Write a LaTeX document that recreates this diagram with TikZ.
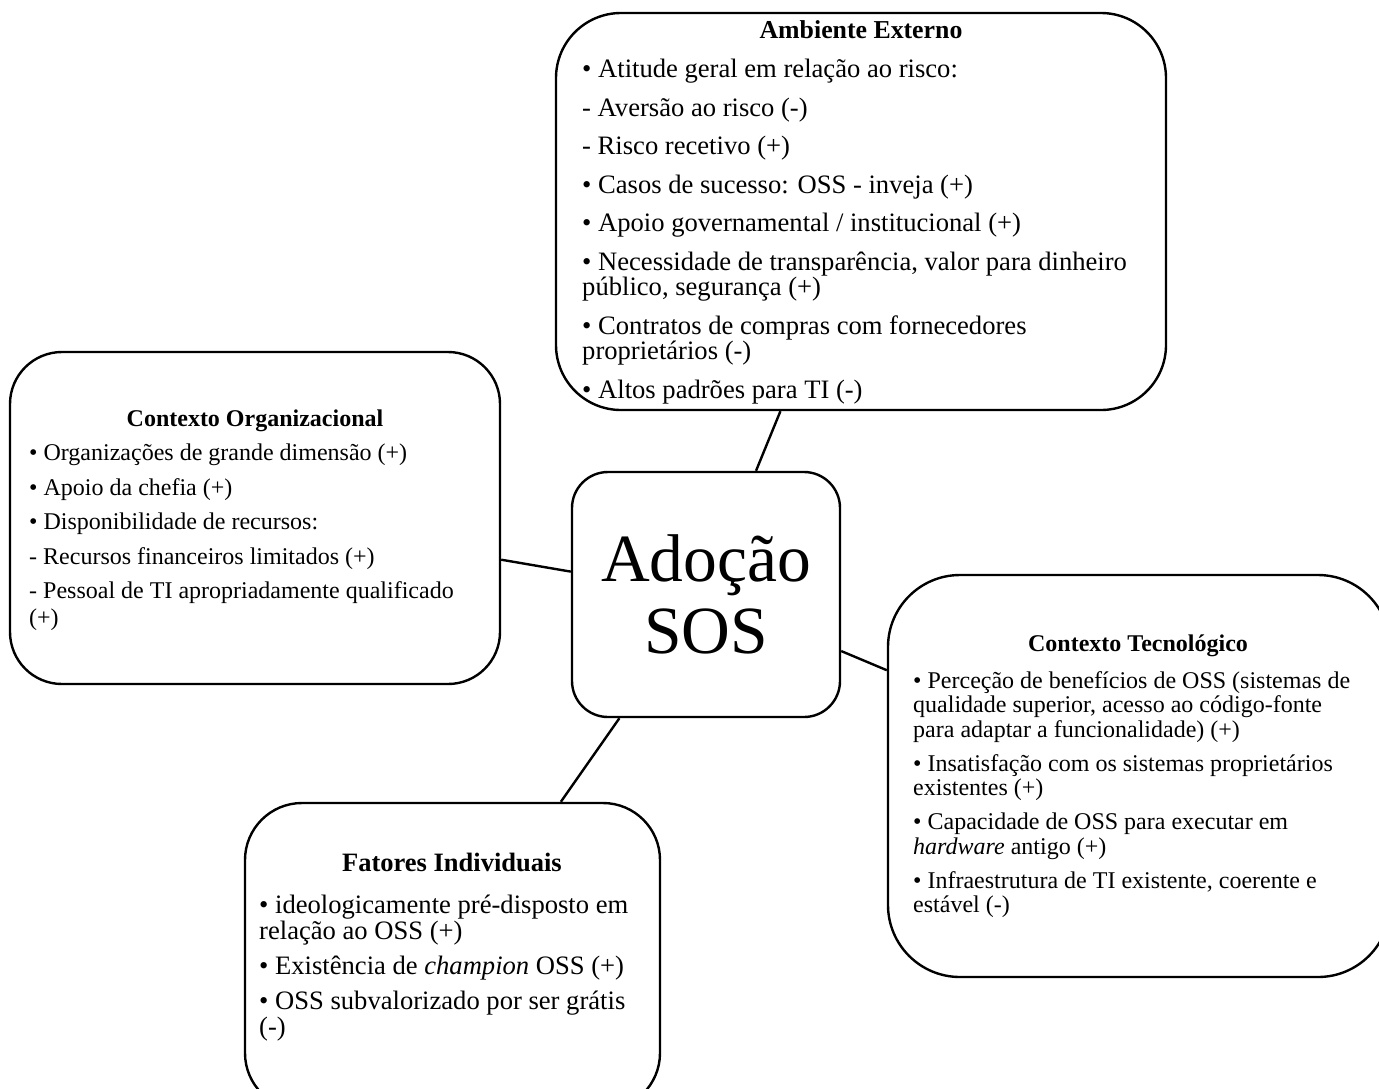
\documentclass[tikz,border=0pt]{standalone}
\usepackage{fontspec}
\setmainfont{Liberation Serif}
\newcommand\lineblock[2]{\vtop{\baselineskip=#1\relax\lineskiplimit=-1000pt\relax\lineskip=0pt\relax #2}}
\newcommand\txl[1]{\hbox{#1}}
\newcommand\pg[1]{\vskip#1\relax}
\tikzset{
  box/.style={draw, line width=2.4pt, rectangle, inner sep=0pt},
  conn/.style={draw, line width=2.4pt},
  ttl/.style={anchor=base, inner sep=0pt, font=\bfseries\fontsize{#1}{#1}\selectfont},
  body/.style={anchor=base west, inner sep=0pt, font=\fontsize{#1}{#1}\selectfont}
}
\begin{document}
\begin{tikzpicture}[x=1pt,y=-1pt]
\useasboundingbox (0,0) rectangle (1379,1088);
\clip (0,0) rectangle (1379,1088);

% boxes
\node[box, minimum width=610pt, minimum height=397pt, rounded corners=65pt] (amb) at (861,211.5) {};
\node[box, minimum width=490pt, minimum height=332pt, rounded corners=52pt] (org) at (255,518) {};
\node[box, minimum width=268pt, minimum height=245pt, rounded corners=36pt,
      font=\fontsize{67.5}{72}\selectfont, align=center] (ado) at (706,594.5) {Adoção\\SOS};
\node[box, minimum width=502pt, minimum height=402pt, rounded corners=72pt] (tec) at (1139,776) {};
\node[box, minimum width=415pt, minimum height=307pt, rounded corners=57pt] (ind) at (452.5,956.5) {};

% connectors
\draw[conn] (amb) -- (ado);
\draw[conn] (org) -- (ado);
\draw[conn] (tec) -- (ado);
\draw[conn] (ind) -- (ado);

% Ambiente Externo
\node[ttl=25.8] (ambtitle) at (861,38) {Ambiente Externo};
\node[body=26.6] (ambtext) at (582,77.5) {\lineblock{25.5pt}{%
\txl{• Atitude geral em relação ao risco:}\pg{13pt}%
\txl{- Aversão ao risco (-)}\pg{13pt}%
\txl{- Risco recetivo (+)}\pg{13pt}%
\txl{• Casos de sucesso: OSS - inveja (+)}\pg{13pt}%
\txl{• Apoio governamental / institucional (+)}\pg{13pt}%
\txl{• Necessidade de transparência, valor para dinheiro}%
\txl{público, segurança (+)}\pg{13pt}%
\txl{• Contratos de compras com fornecedores}%
\txl{proprietários (-)}\pg{13pt}%
\txl{• Altos padrões para TI (-)}}};

% Contexto Organizacional
\node[ttl=24] (orgtitle) at (255,426) {Contexto Organizacional};
\node[body=24] (orgtext) at (29,460.5) {\lineblock{26.5pt}{%
\txl{• Organizações de grande dimensão (+)}\pg{8pt}%
\txl{• Apoio da chefia (+)}\pg{8pt}%
\txl{• Disponibilidade de recursos:}\pg{8pt}%
\txl{- Recursos financeiros limitados (+)}\pg{8pt}%
\txl{- Pessoal de TI apropriadamente qualificado}%
\txl{(+)}}};

% Contexto Tecnologico
\node[ttl=24] (tectitle) at (1138,651) {Contexto Tecnológico};
\node[body=24] (tectext) at (913,688) {\lineblock{24.5pt}{%
\txl{• Perceção de benefícios de OSS (sistemas de}%
\txl{qualidade superior, acesso ao código-fonte}%
\txl{para adaptar a funcionalidade) (+)}\pg{9.5pt}%
\txl{• Insatisfação com os sistemas proprietários}%
\txl{existentes (+)}\pg{9.5pt}%
\txl{• Capacidade de OSS para executar em}%
\txl{\textit{hardware} antigo (+)}\pg{9.5pt}%
\txl{• Infraestrutura de TI existente, coerente e}%
\txl{estável (-)}}};

% Fatores Individuais
\node[ttl=26.5] (indtitle) at (452,871) {Fatores Individuais};
\node[body=26.6] (indtext) at (259,913) {\lineblock{26pt}{%
\txl{• ideologicamente pré-disposto em}%
\txl{relação ao OSS (+)}\pg{9pt}%
\txl{• Existência de \textit{champion} OSS (+)}\pg{9pt}%
\txl{• OSS subvalorizado por ser grátis}%
\txl{(-)}}};
\end{tikzpicture}
\end{document}
